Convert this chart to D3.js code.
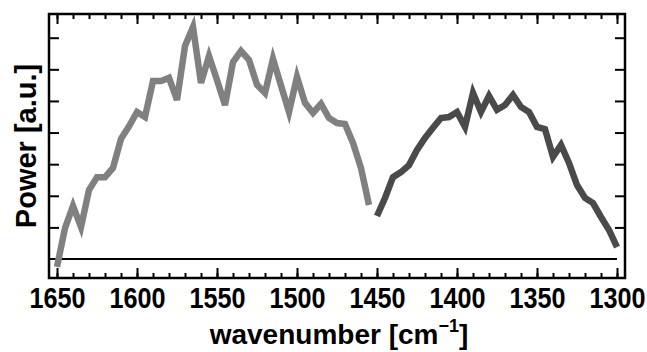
<!DOCTYPE html>
<html>
<head>
<meta charset="utf-8">
<script src="https://cdn.jsdelivr.net/npm/d3@7"></script>
<style>
  body { margin: 0; background: #fff; }
  text { font-family: "Liberation Sans", Arial, sans-serif; font-weight: bold; }
</style>
</head>
<body>
<div class="chart"></div>
<script>
// Data (power in tick units, 0 = baseline)
const amideWave = [1650, 1645, 1640, 1635, 1630, 1625, 1620, 1615, 1610, 1605,
                   1600, 1595, 1590, 1585, 1580, 1575, 1570, 1565, 1560, 1555,
                   1550, 1545, 1540, 1535, 1530, 1525, 1520, 1515, 1510, 1505,
                   1500, 1495, 1490, 1485, 1480, 1475, 1470, 1465, 1460, 1455];
const amidePower = [-0.25, 0.98, 1.68, 1.01, 2.18, 2.59, 2.59, 2.88, 3.8, 4.2,
                    4.65, 4.49, 5.63, 5.63, 5.73, 5.03, 6.74, 7.34, 5.57, 6.42,
                    5.66, 4.87, 6.23, 6.58, 6.30, 5.51, 5.25, 6.33, 5.49, 4.65,
                    5.76, 4.94, 4.62, 4.91, 4.46, 4.30, 4.27, 3.67, 2.88, 1.71];

const lowWave = [1450, 1445, 1440, 1435, 1430, 1425, 1420, 1415, 1410, 1405,
                 1400, 1395, 1390, 1385, 1380, 1375, 1370, 1365, 1360, 1355,
                 1350, 1345, 1340, 1335, 1330, 1325, 1320, 1315, 1310, 1305, 1300];
const lowPower = [1.36, 1.93, 2.59, 2.75, 2.97, 3.45, 3.83, 4.15, 4.46, 4.49,
                  4.65, 4.18, 5.25, 4.65, 5.16, 4.72, 4.87, 5.19, 4.81, 4.65,
                  4.18, 4.11, 3.23, 3.61, 3.04, 2.34, 1.93, 1.77, 1.33, 0.92, 0.38];

const xMajorTicks = [1650, 1600, 1550, 1500, 1450, 1400, 1350, 1300];
const yTicks = [1, 2, 3, 4, 5, 6, 7];

const margin = {top: 14, left: 49, right: 22, bottom: 74};
const width = 647 - margin.left - margin.right;
const height = 352 - margin.top - margin.bottom;

const svg = d3.select(".chart").append("svg")
    .attr("width", width + margin.left + margin.right)
    .attr("height", height + margin.top + margin.bottom)
    .append("g")
    .attr("transform", `translate(${margin.left},${margin.top})`);

const xScale = d3.scaleLinear().domain([1655, 1295]).range([0, width]);
const yScale = d3.scaleLinear().domain([-0.6, 7.75]).range([height, 0]);

const line = d3.line()
    .x(d => xScale(d[0]))
    .y(d => yScale(d[1]));

// baseline
svg.append("line")
    .attr("x1", 0).attr("x2", xScale(1300))
    .attr("y1", yScale(0)).attr("y2", yScale(0))
    .attr("stroke", "#000").attr("stroke-width", 2);

svg.append("path")
    .datum(d3.zip(amideWave, amidePower))
    .attr("d", line)
    .attr("fill", "none")
    .attr("stroke", "#808080")
    .attr("stroke-width", 6.5)
    .attr("stroke-linejoin", "miter");

svg.append("path")
    .datum(d3.zip(lowWave, lowPower))
    .attr("d", line)
    .attr("fill", "none")
    .attr("stroke", "#4a4a4a")
    .attr("stroke-width", 6.5)
    .attr("stroke-linejoin", "miter");

// axes, ticks point inward
const minorTicks = d3.range(1650, 1299, -10);

function styleAxis(g) {
    g.select(".domain").remove();
    g.selectAll(".tick line").attr("stroke", "#000").attr("stroke-width", 2);
}

svg.append("g")
    .attr("transform", `translate(0,${height})`)
    .call(d3.axisBottom(xScale).tickValues(minorTicks).tickSize(-5).tickFormat(""))
    .call(styleAxis);

svg.append("g")
    .attr("class", "x-axis")
    .attr("transform", `translate(0,${height})`)
    .call(d3.axisBottom(xScale).tickValues(xMajorTicks).tickSize(-10).tickPadding(9).tickFormat(d3.format("d")))
    .call(styleAxis)
    .selectAll("text")
    .attr("font-size", 29)
    .attr("transform", "scale(0.87,1)")
    .attr("fill", "#000");

svg.append("g")
    .call(d3.axisTop(xScale).tickValues(minorTicks).tickSize(-5).tickFormat(""))
    .call(styleAxis);

svg.append("g")
    .call(d3.axisTop(xScale).tickValues(xMajorTicks).tickSize(-10).tickFormat(""))
    .call(styleAxis);

svg.append("g")
    .call(d3.axisLeft(yScale).tickValues(yTicks).tickSize(-10).tickFormat(""))
    .call(styleAxis);

svg.append("g")
    .attr("transform", `translate(${width},0)`)
    .call(d3.axisRight(yScale).tickValues(yTicks).tickSize(-10).tickFormat(""))
    .call(styleAxis);

// frame
svg.append("rect")
    .attr("width", width).attr("height", height)
    .attr("fill", "none")
    .attr("stroke", "#000")
    .attr("stroke-width", 2.5);

// titles
const xTitle = svg.append("text")
    .attr("x", width / 2 + 2)
    .attr("y", height + 66)
    .attr("text-anchor", "middle")
    .attr("font-size", 28);
xTitle.append("tspan").text("wavenumber [cm");
xTitle.append("tspan").attr("dy", -12).attr("font-size", 18).text("\u22121");
xTitle.append("tspan").attr("dy", 12).text("]");

svg.append("text")
    .attr("transform", `translate(${-13},${height / 2}) rotate(-90)`)
    .attr("text-anchor", "middle")
    .attr("font-size", 29)
    .text("Power [a.u.]");
</script>
</body>
</html>
